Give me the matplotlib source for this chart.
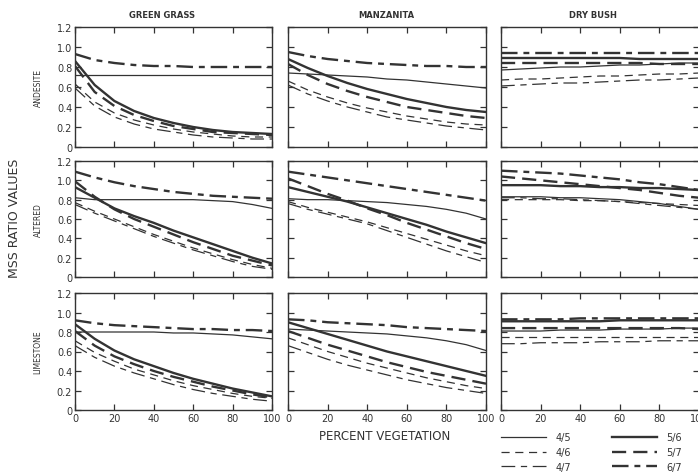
import matplotlib.pyplot as plt

# percent vegetation cover at which values were read
pct = [0, 10, 20, 30, 40, 50, 60, 70, 80, 90, 100]

ratios = ['4/5', '4/6', '4/7', '5/6', '5/7', '6/7']
vegetation = ['GREEN GRASS', 'MANZANITA', 'DRY BUSH']
rocks = ['ANDESITE', 'ALTERED', 'LIMESTONE']

# each panel: one row per ratio, in the order of `ratios`
grass_andesite = [
    [0.72, 0.72, 0.72, 0.72, 0.72, 0.72, 0.72, 0.72, 0.72, 0.72, 0.72],
    [0.63, 0.45, 0.34, 0.27, 0.22, 0.18, 0.15, 0.13, 0.11, 0.10, 0.10],
    [0.59, 0.41, 0.30, 0.23, 0.18, 0.15, 0.12, 0.10, 0.09, 0.08, 0.08],
    [0.86, 0.62, 0.46, 0.36, 0.29, 0.24, 0.20, 0.17, 0.15, 0.14, 0.13],
    [0.81, 0.55, 0.41, 0.32, 0.26, 0.21, 0.18, 0.15, 0.14, 0.13, 0.12],
    [0.93, 0.87, 0.84, 0.82, 0.81, 0.81, 0.80, 0.80, 0.80, 0.80, 0.80],
]
manzanita_andesite = [
    [0.74, 0.73, 0.72, 0.71, 0.70, 0.68, 0.67, 0.65, 0.63, 0.61, 0.59],
    [0.66, 0.57, 0.50, 0.44, 0.39, 0.35, 0.31, 0.28, 0.25, 0.23, 0.22],
    [0.62, 0.53, 0.46, 0.40, 0.35, 0.30, 0.27, 0.24, 0.21, 0.19, 0.17],
    [0.88, 0.79, 0.71, 0.64, 0.58, 0.53, 0.48, 0.44, 0.40, 0.37, 0.35],
    [0.83, 0.72, 0.63, 0.56, 0.50, 0.45, 0.40, 0.37, 0.34, 0.31, 0.29],
    [0.95, 0.91, 0.88, 0.86, 0.84, 0.83, 0.82, 0.81, 0.81, 0.80, 0.80],
]
bush_andesite = [
    [0.77, 0.78, 0.79, 0.80, 0.80, 0.81, 0.82, 0.82, 0.83, 0.84, 0.84],
    [0.67, 0.68, 0.68, 0.69, 0.70, 0.71, 0.71, 0.72, 0.73, 0.73, 0.74],
    [0.61, 0.62, 0.63, 0.64, 0.64, 0.65, 0.66, 0.67, 0.67, 0.68, 0.69],
    [0.89, 0.89, 0.89, 0.89, 0.89, 0.89, 0.89, 0.88, 0.88, 0.88, 0.88],
    [0.84, 0.84, 0.84, 0.84, 0.84, 0.84, 0.84, 0.84, 0.83, 0.83, 0.83],
    [0.94, 0.94, 0.94, 0.94, 0.94, 0.94, 0.94, 0.94, 0.94, 0.94, 0.94],
]
grass_altered = [
    [0.82, 0.80, 0.80, 0.80, 0.80, 0.80, 0.80, 0.79, 0.78, 0.75, 0.71],
    [0.77, 0.68, 0.60, 0.52, 0.44, 0.37, 0.30, 0.24, 0.18, 0.13, 0.09],
    [0.75, 0.66, 0.58, 0.50, 0.42, 0.35, 0.28, 0.22, 0.16, 0.11, 0.08],
    [0.93, 0.82, 0.71, 0.63, 0.56, 0.48, 0.41, 0.34, 0.27, 0.20, 0.14],
    [0.99, 0.83, 0.70, 0.60, 0.52, 0.44, 0.36, 0.29, 0.22, 0.17, 0.12],
    [1.09, 1.03, 0.98, 0.94, 0.91, 0.88, 0.86, 0.84, 0.83, 0.82, 0.81],
]
manzanita_altered = [
    [0.81, 0.80, 0.80, 0.79, 0.78, 0.77, 0.75, 0.73, 0.70, 0.66, 0.60],
    [0.78, 0.72, 0.67, 0.62, 0.57, 0.51, 0.45, 0.39, 0.33, 0.27, 0.22],
    [0.76, 0.70, 0.65, 0.60, 0.55, 0.48, 0.41, 0.34, 0.27, 0.21, 0.15],
    [0.93, 0.88, 0.83, 0.78, 0.72, 0.66, 0.60, 0.54, 0.47, 0.41, 0.35],
    [1.02, 0.94, 0.86, 0.79, 0.71, 0.64, 0.56, 0.49, 0.42, 0.35, 0.29],
    [1.09, 1.06, 1.03, 1.00, 0.97, 0.94, 0.91, 0.88, 0.85, 0.82, 0.79],
]
bush_altered = [
    [0.83, 0.83, 0.83, 0.82, 0.82, 0.81, 0.80, 0.78, 0.76, 0.73, 0.70],
    [0.80, 0.80, 0.80, 0.80, 0.79, 0.79, 0.78, 0.77, 0.76, 0.75, 0.74],
    [0.82, 0.82, 0.81, 0.81, 0.80, 0.79, 0.78, 0.76, 0.74, 0.72, 0.70],
    [0.95, 0.95, 0.95, 0.94, 0.94, 0.93, 0.93, 0.92, 0.92, 0.91, 0.90],
    [1.04, 1.02, 1.00, 0.98, 0.96, 0.94, 0.92, 0.90, 0.87, 0.84, 0.82],
    [1.10, 1.09, 1.08, 1.07, 1.05, 1.03, 1.01, 0.98, 0.96, 0.93, 0.90],
]
grass_limestone = [
    [0.80, 0.80, 0.80, 0.80, 0.80, 0.79, 0.79, 0.78, 0.77, 0.75, 0.73],
    [0.71, 0.59, 0.50, 0.42, 0.36, 0.30, 0.25, 0.21, 0.17, 0.14, 0.12],
    [0.66, 0.54, 0.45, 0.38, 0.32, 0.26, 0.21, 0.17, 0.14, 0.11, 0.09],
    [0.88, 0.73, 0.61, 0.52, 0.45, 0.38, 0.32, 0.27, 0.22, 0.18, 0.14],
    [0.81, 0.66, 0.55, 0.47, 0.40, 0.34, 0.29, 0.24, 0.20, 0.16, 0.13],
    [0.92, 0.89, 0.87, 0.86, 0.85, 0.84, 0.83, 0.83, 0.82, 0.82, 0.81],
]
manzanita_limestone = [
    [0.83, 0.82, 0.81, 0.80, 0.79, 0.78, 0.76, 0.74, 0.71, 0.67, 0.61],
    [0.74, 0.67, 0.60, 0.54, 0.48, 0.43, 0.38, 0.33, 0.29, 0.25, 0.22],
    [0.66, 0.59, 0.52, 0.46, 0.41, 0.36, 0.31, 0.27, 0.23, 0.20, 0.17],
    [0.90, 0.84, 0.78, 0.72, 0.66, 0.60, 0.55, 0.50, 0.45, 0.40, 0.35],
    [0.81, 0.74, 0.67, 0.61, 0.55, 0.49, 0.44, 0.39, 0.35, 0.31, 0.27],
    [0.93, 0.92, 0.90, 0.89, 0.88, 0.87, 0.85, 0.84, 0.83, 0.82, 0.81],
]
bush_limestone = [
    [0.81, 0.81, 0.81, 0.82, 0.82, 0.82, 0.83, 0.83, 0.83, 0.84, 0.84],
    [0.75, 0.75, 0.75, 0.75, 0.75, 0.75, 0.75, 0.75, 0.75, 0.75, 0.75],
    [0.68, 0.68, 0.69, 0.69, 0.69, 0.70, 0.70, 0.70, 0.71, 0.71, 0.71],
    [0.91, 0.91, 0.91, 0.91, 0.91, 0.91, 0.92, 0.92, 0.92, 0.92, 0.92],
    [0.84, 0.84, 0.84, 0.84, 0.84, 0.84, 0.84, 0.84, 0.84, 0.84, 0.83],
    [0.93, 0.93, 0.93, 0.93, 0.94, 0.94, 0.94, 0.94, 0.94, 0.94, 0.94],
]

panels = [
    [grass_andesite, manzanita_andesite, bush_andesite],
    [grass_altered, manzanita_altered, bush_altered],
    [grass_limestone, manzanita_limestone, bush_limestone],
]

ink = '#333333'
styles = {
    '4/5': dict(lw=0.9, ls='-'),
    '4/6': dict(lw=0.9, ls=(0, (6.5, 4.5))),
    '4/7': dict(lw=0.9, ls=(0, (11, 4.5, 5, 4.5))),
    '5/6': dict(lw=1.7, ls='-'),
    '5/7': dict(lw=1.7, ls=(0, (6, 3))),
    '6/7': dict(lw=1.7, ls=(0, (7, 2.5, 2.5, 2.5))),
}

W, H = 698, 477
fig = plt.figure(figsize=(W / 100, H / 100), dpi=100)

# panel boxes in pixels (left, right) and (top, bottom)
col_px = [(75, 272), (288, 486), (501, 699)]
row_px = [(28, 148), (162, 278), (294, 411)]

handles = []
for r in range(3):
    for c in range(3):
        x0, x1 = col_px[c]
        y0, y1 = row_px[r]
        ax = fig.add_axes([x0 / W, 1 - y1 / H, (x1 - x0) / W, (y1 - y0) / H])
        for i, ratio in enumerate(ratios):
            line, = ax.plot(pct, panels[r][c][i], color=ink, label=ratio,
                            **styles[ratio])
            if r == 0 and c == 0:
                handles.append(line)
        ax.set_xlim(0, 100)
        ax.set_ylim(0, 1.2)
        ax.set_xticks([0, 20, 40, 60, 80, 100])
        ax.set_yticks([0, 0.2, 0.4, 0.6, 0.8, 1.0, 1.2])
        ax.tick_params(direction='in', length=4, width=0.9, top=True,
                       right=True, colors=ink, labelsize=7, pad=2)
        for s in ax.spines.values():
            s.set_color(ink)
            s.set_linewidth(1.0)
        if c == 0:
            ax.set_yticklabels(['0', '0.2', '0.4', '0.6', '0.8', '1.0', '1.2'])
            fig.text(38 / W, 1 - ((y0 + y1) / 2) / H, rocks[r], rotation=90,
                     ha='center', va='center', fontsize=5.5, color=ink)
        else:
            ax.set_yticklabels([])
        if r != 2:
            ax.set_xticklabels([])

title_x = [162, 386, 593]
for c in range(3):
    fig.text(title_x[c] / W, 1 - 15 / H, vegetation[c], ha='center',
             va='center', fontsize=6, color=ink, fontweight='bold')

fig.text(14 / W, 1 - 218 / H, 'MSS RATIO VALUES', rotation=90, ha='center',
         va='center', fontsize=9, color=ink)
fig.text(385 / W, 1 - 437 / H, 'PERCENT VEGETATION', ha='center',
         va='center', fontsize=8.5, color=ink)

fig.legend(handles, ratios, loc='upper left', bbox_to_anchor=(0.718, 0.092),
           ncol=2, frameon=False, fontsize=7, handlelength=4.6,
           handletextpad=1.0, columnspacing=4.2, labelspacing=0.5,
           labelcolor=ink, borderaxespad=0, borderpad=0)

fig.savefig('out.png', dpi=100)
